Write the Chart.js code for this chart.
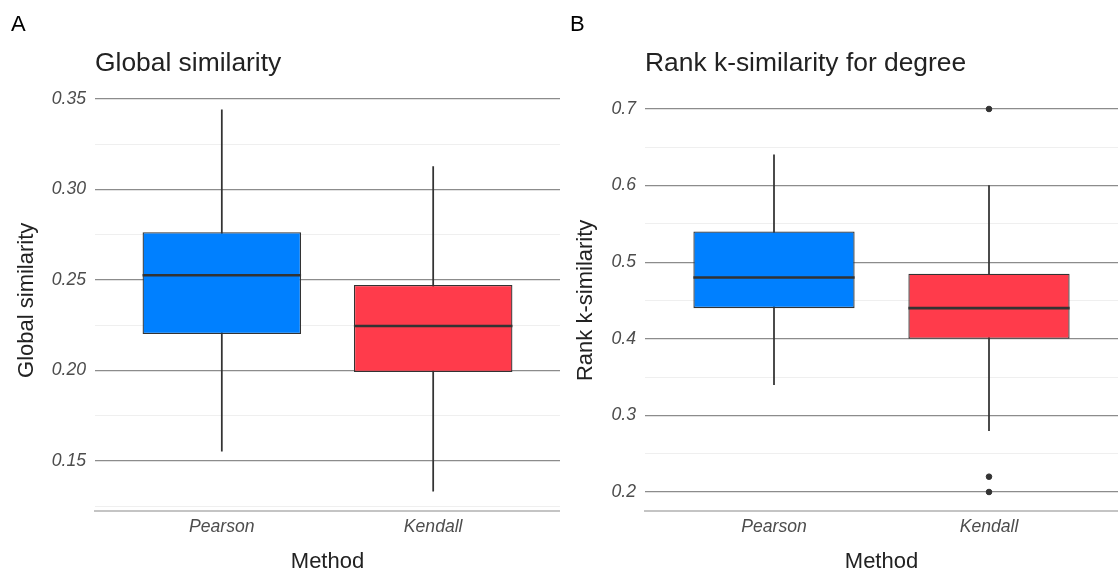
<!DOCTYPE html>
<html>
<head>
<meta charset="utf-8">
<script src="https://cdn.jsdelivr.net/npm/chart.js@4"></script>
<style>
  body { margin: 0; background: #fff; overflow: hidden; }
  .panel { position: absolute; top: 0; height: 574px; }
  #panelA { left: 0; width: 560px; }
  #panelB { left: 559px; width: 559px; }
</style>
</head>
<body>
<div class="panel" id="panelA"><canvas id="chartA"></canvas></div>
<div class="panel" id="panelB"><canvas id="chartB"></canvas></div>
<script>
// Data (box stats per method)
const methods = ['Pearson', 'Kendall'];
const boxColors = ['#0080ff', '#ff3b4b'];

// Panel A: Global similarity
const globalMin = [0.1555, 0.1334];
const globalQ1 = [0.2202, 0.1992];
const globalMedian = [0.2526, 0.2246];
const globalQ3 = [0.2764, 0.2472];
const globalMax = [0.3440, 0.3126];
const globalOutliers = [];
const globalTicks = [0.125, 0.15, 0.175, 0.2, 0.225, 0.25, 0.275, 0.3, 0.325, 0.35];

// Panel B: Rank k-similarity for degree
const rankMin = [0.34, 0.28];
const rankQ1 = [0.44, 0.40];
const rankMedian = [0.48, 0.44];
const rankQ3 = [0.54, 0.485];
const rankMax = [0.64, 0.60];
const rankOutliers = [
    { method: 'Kendall', value: 0.70 },
    { method: 'Kendall', value: 0.22 },
    { method: 'Kendall', value: 0.20 }
];
const rankTicks = [0.2, 0.25, 0.3, 0.35, 0.4, 0.45, 0.5, 0.55, 0.6, 0.65, 0.7];

const FONT = '"Liberation Sans", Arial, sans-serif';
const DARK = '#333333';

// Draws the median line across each box and the panel tag
const boxExtras = {
    id: 'boxExtras',
    afterDatasetsDraw(chart, args, opts) {
        const ctx = chart.ctx;
        const meta = chart.getDatasetMeta(1);
        const y = chart.scales.y;
        ctx.save();
        ctx.strokeStyle = DARK;
        ctx.lineWidth = 2.6;
        meta.data.forEach((bar, i) => {
            const py = y.getPixelForValue(opts.medians[i]);
            ctx.beginPath();
            ctx.moveTo(bar.x - bar.width / 2, py);
            ctx.lineTo(bar.x + bar.width / 2, py);
            ctx.stroke();
        });
        ctx.fillStyle = '#000';
        ctx.font = '22px ' + FONT;
        ctx.textBaseline = 'middle';
        ctx.fillText(opts.tag, 11, 25);
        ctx.restore();
    }
};

function isMajor(v, step) {
    return Math.abs(v / step - Math.round(v / step)) < 1e-6;
}

function makeBoxChart(canvasId, cfg) {
    const ranges = (lo, hi) => methods.map((m, i) => ({ x: i + 1, y: [lo[i], hi[i]] }));
    new Chart(document.getElementById(canvasId), {
        type: 'bar',
        data: {
            datasets: [{
                label: 'whisker',
                data: ranges(cfg.min, cfg.max),
                backgroundColor: DARK,
                barThickness: 1.1,
                grouped: false,
                order: 3
            }, {
                label: 'box',
                data: ranges(cfg.q1, cfg.q3),
                backgroundColor: boxColors,
                borderColor: DARK,
                borderWidth: 1.3,
                borderSkipped: false,
                barPercentage: 0.75,
                categoryPercentage: 1,
                grouped: false,
                order: 2
            }, {
                type: 'scatter',
                label: 'outliers',
                data: cfg.outliers.map(o => ({ x: methods.indexOf(o.method) + 1, y: o.value })),
                backgroundColor: DARK,
                borderColor: DARK,
                pointRadius: 2.8,
                order: 1
            }]
        },
        options: {
            responsive: true,
            maintainAspectRatio: false,
            animation: false,
            layout: { padding: 0, autoPadding: false },
            plugins: {
                legend: { display: false },
                tooltip: { enabled: false },
                title: {
                    display: true,
                    text: cfg.title,
                    align: 'start',
                    fullSize: false,
                    color: '#222',
                    font: { family: FONT, size: 26.4, weight: 'normal', lineHeight: 1.2 },
                    padding: { top: 48, bottom: 10 }
                },
                boxExtras: { medians: cfg.median, tag: cfg.tag }
            },
            scales: {
                x: {
                    type: 'linear',
                    offset: false,
                    min: 0.4,
                    max: 2.6,
                    afterBuildTicks: (scale) => {
                        scale.ticks = methods.map((m, i) => ({ value: i + 1 }));
                    },
                    afterFit: (scale) => { scale.height = 63; },
                    grid: { display: false, drawTicks: false },
                    border: { display: true, color: '#c4c4c4', width: 2 },
                    ticks: {
                        padding: 6,
                        color: '#4d4d4d',
                        font: { family: FONT, size: 17.6, style: 'italic' },
                        callback: (v) => methods[Math.round(v) - 1] || ''
                    },
                    title: {
                        display: true,
                        text: 'Method',
                        color: '#222',
                        font: { family: FONT, size: 22, lineHeight: 1 },
                        padding: { top: 0, bottom: 1 }
                    }
                },
                y: {
                    min: cfg.yMin,
                    max: cfg.yMax,
                    afterBuildTicks: (scale) => {
                        scale.ticks = cfg.ticks.map(v => ({ value: v }));
                    },
                    afterFit: (scale) => { scale.width = cfg.axisWidth; },
                    grid: {
                        drawTicks: false,
                        color: (c) => isMajor(c.tick.value, cfg.major) ? '#8c8c8c' : '#efefef',
                        lineWidth: (c) => isMajor(c.tick.value, cfg.major) ? 1.2 : 1
                    },
                    border: { display: false },
                    ticks: {
                        padding: 9,
                        color: '#4d4d4d',
                        font: { family: FONT, size: 17.6, style: 'italic' },
                        callback: (v) => isMajor(v, cfg.major) ? v.toFixed(cfg.decimals) : ''
                    },
                    title: {
                        display: true,
                        text: cfg.yTitle,
                        color: '#222',
                        font: { family: FONT, size: 22, lineHeight: 1 },
                        padding: { top: 16, bottom: 0 }
                    }
                }
            }
        },
        plugins: [boxExtras]
    });
}

makeBoxChart('chartA', {
    tag: 'A',
    title: 'Global similarity',
    yTitle: 'Global similarity',
    min: globalMin, q1: globalQ1, median: globalMedian, q3: globalQ3, max: globalMax,
    outliers: globalOutliers,
    ticks: globalTicks,
    yMin: 0.1224,
    yMax: 0.3551,
    major: 0.05,
    decimals: 2,
    axisWidth: 95
});

makeBoxChart('chartB', {
    tag: 'B',
    title: 'Rank k-similarity for degree',
    yTitle: 'Rank k-similarity',
    min: rankMin, q1: rankQ1, median: rankMedian, q3: rankQ3, max: rankMax,
    outliers: rankOutliers,
    ticks: rankTicks,
    yMin: 0.1752,
    yMax: 0.7252,
    major: 0.1,
    decimals: 1,
    axisWidth: 86
});
</script>
</body>
</html>
